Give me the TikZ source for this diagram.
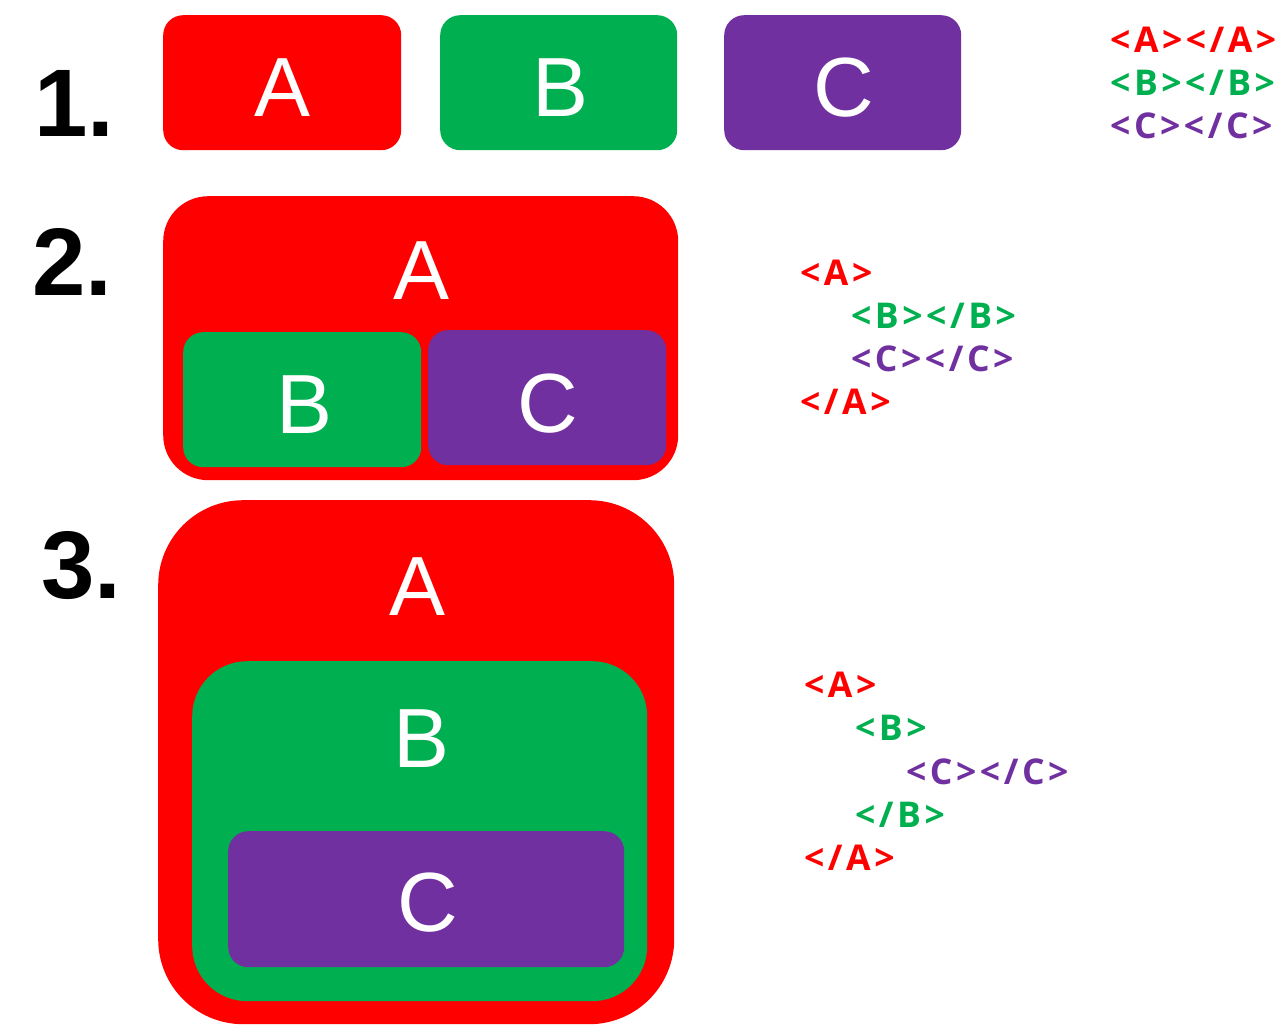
\documentclass[tikz,border=0pt]{standalone}
\usepackage{fontspec}
\setmainfont{Liberation Sans}
\newfontfamily\codefont[LetterSpace=10]{Open Sans}
\definecolor{cred}{HTML}{FF0000}
\definecolor{cgreen}{HTML}{00B050}
\definecolor{cpurple}{HTML}{7030A0}
\begin{document}
\begin{tikzpicture}[x=1pt,y=-1pt,
  box/.style={inner sep=0pt, draw=none, anchor=north west},
  letter/.style={anchor=base, inner sep=0pt, text=white, font=\fontsize{84}{84}\selectfont},
  num/.style={anchor=base west, inner sep=0pt, text=black, font=\fontsize{96}{96}\selectfont\bfseries},
  code/.style={anchor=base west, inner sep=0pt, font=\fontsize{35.5}{35.5}\selectfont\codefont\bfseries}]
\useasboundingbox[fill=white] (0,0) rectangle (1287,1032);
% ---------- row 1 ----------
\node[num] (n1) at (34,137) {1.};
\node[box, fill=cred, rounded corners=20pt, minimum width=238pt, minimum height=135pt] (a1) at (163,15) {};
\node[box, fill=cgreen, rounded corners=20pt, minimum width=237pt, minimum height=135pt] (b1) at (440,15) {};
\node[box, fill=cpurple, rounded corners=20pt, minimum width=237pt, minimum height=135pt] (c1) at (724,15) {};
\node[letter] (la1) at (283,117) {A};
\node[letter] (lb1) at (561,117) {B};
\node[letter] (lc1) at (844,117) {C};
\node[code, text=cred] (t1a) at (1110,53) {<A></A>};
\node[code, text=cgreen] (t1b) at (1110,96) {<B></B>};
\node[code, text=cpurple] (t1c) at (1110,139) {<C></C>};
% ---------- row 2 ----------
\node[num] (n2) at (32,295) {2.};
\node[box, fill=cred, rounded corners=45pt, minimum width=515pt, minimum height=284pt] (a2) at (163,196) {};
\node[box, fill=cgreen, rounded corners=20pt, minimum width=238pt, minimum height=135pt] (b2) at (183,332) {};
\node[box, fill=cpurple, rounded corners=20pt, minimum width=238pt, minimum height=135pt] (c2) at (428,330) {};
\node[letter] (la2) at (422,299) {A};
\node[letter] (lb2) at (305,433) {B};
\node[letter] (lc2) at (548,432) {C};
\node[code, text=cred] (t2a) at (800,285) {<A>};
\node[code, text=cgreen] (t2b) at (851,328) {<B></B>};
\node[code, text=cpurple] (t2c) at (851,371) {<C></C>};
\node[code, text=cred] (t2d) at (800,414) {</A>};
% ---------- row 3 ----------
\node[num] (n3) at (41,598) {3.};
\node[box, fill=cred, rounded corners=85pt, minimum width=516pt, minimum height=524pt] (a3) at (158,500) {};
\node[box, fill=cgreen, rounded corners=55pt, minimum width=455pt, minimum height=340pt] (b3) at (192,661) {};
\node[box, fill=cpurple, rounded corners=20pt, minimum width=396pt, minimum height=136pt] (c3) at (228,831) {};
\node[letter] (la3) at (418,615) {A};
\node[letter] (lb3) at (422,767) {B};
\node[letter] (lc3) at (428,931) {C};
\node[code, text=cred] (t3a) at (804,697) {<A>};
\node[code, text=cgreen] (t3b) at (855,740) {<B>};
\node[code, text=cpurple] (t3c) at (906,784) {<C></C>};
\node[code, text=cgreen] (t3d) at (855,827) {</B>};
\node[code, text=cred] (t3e) at (804,870) {</A>};
\end{tikzpicture}
\end{document}
